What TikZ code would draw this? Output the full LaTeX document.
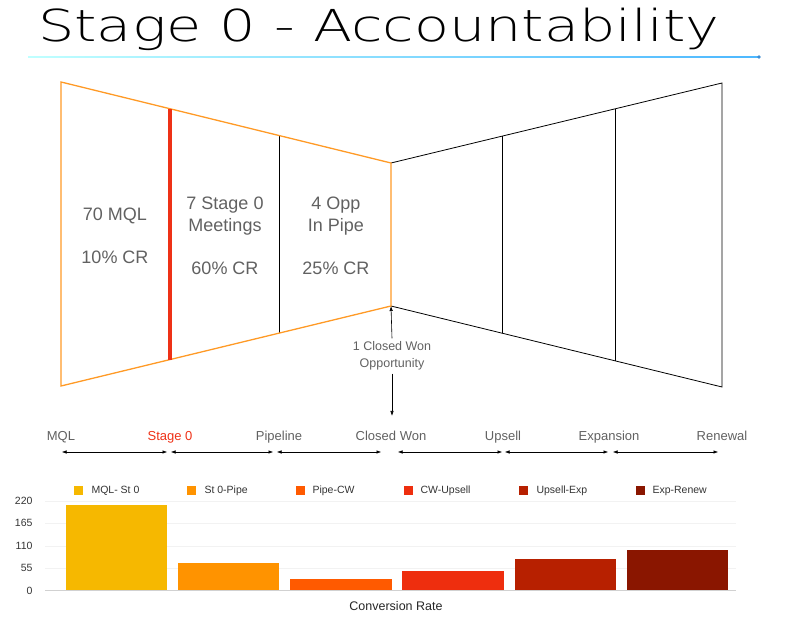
\documentclass[tikz,border=0pt]{standalone}
\usepackage{fontspec}
\setmainfont{Liberation Sans}
\newfontfamily\titlefont{DejaVu Sans ExtraLight}
\usetikzlibrary{calc,arrows.meta}
\definecolor{funnelorange}{HTML}{FF9A26}
\definecolor{stagered}{HTML}{EE3117}
\definecolor{txtgray}{HTML}{616161}
\definecolor{barA}{HTML}{F6B800}
\definecolor{barB}{HTML}{FF9300}
\definecolor{barC}{HTML}{FF5A00}
\definecolor{barD}{HTML}{EE2E0E}
\definecolor{barE}{HTML}{B72000}
\definecolor{barF}{HTML}{8A1600}
\begin{document}
\begin{tikzpicture}[x=1pt,y=-1pt,
  big/.style={text=txtgray,font=\fontsize{18}{22}\selectfont,align=center},
  small/.style={text=txtgray,font=\fontsize{13}{15.5}\selectfont,align=center},
  tick/.style={text=black!80,font=\fontsize{10.5}{12}\selectfont,anchor=east},
  legend/.style={text=black!80,font=\fontsize{10.5}{12}\selectfont,anchor=west},
  span/.style={{Latex[length=4.5pt,width=3.5pt]}-{Latex[length=4.5pt,width=3.5pt]},line width=0.5pt},
  pointer/.style={-{Latex[length=5pt,width=3.5pt]},line width=0.6pt}]

\useasboundingbox (0,0) rectangle (796,617);

\node[anchor=base west,inner sep=0,font=\titlefont\fontsize{44}{48}\selectfont] (title) at (38,42) {\scalebox{1.3}[1]{Stage 0 - Accountability}};
\shade[left color=cyan!25!white,right color=cyan!60!blue!70] (28,56.4) rectangle (759,57.6);
\fill[cyan!60!blue!80] (759,57) circle (1.8);

% funnel
\coordinate (lt) at (61,82);
\coordinate (lb) at (61,386);
\coordinate (mt) at (391,163);
\coordinate (mb) at (391,306);
\coordinate (rt) at (722,83);
\coordinate (rb) at (722,387);
\draw[black,line width=0.8pt] (mt) -- (rt) -- (rb) -- (mb);
\draw[black,line width=0.8pt] ($(mt)!0.338!(rt)$) -- ($(mb)!0.338!(rb)$);
\draw[black,line width=0.8pt] ($(mt)!0.677!(rt)$) -- ($(mb)!0.677!(rb)$);
\draw[black,line width=0.8pt] ($(lt)!0.661!(mt)$) -- ($(lb)!0.661!(mb)$);
\draw[funnelorange,line width=1.3pt,line join=miter] (mt) -- (lt) -- (lb) -- (mb) -- cycle;
\draw[stagered,line width=4pt] ($(lt)!0.33!(mt)$) -- ($(lb)!0.33!(mb)$);

\node[big] (mql) at (115,216) {70 MQL};
\node[big] (mqlcr) at (115,257) {10\% CR};
\node[big] (st0) at (225,216) {7 Stage 0\\Meetings};
\node[big] (st0cr) at (225,268) {60\% CR};
\node[big] (opp) at (336,216) {4 Opp\\In Pipe};
\node[big] (oppcr) at (336,268) {25\% CR};

\node[small,font=\fontsize{12.5}{16.5}\selectfont] (won) at (392,356) {1 Closed Won\\Opportunity};
\coordinate (wonend) at (392,416);
\draw[pointer] (won.north) -- (mb);
\draw[pointer] (won.south) -- (wonend);

% stages
\node[small,anchor=base] (s1) at (61,441) {MQL};
\node[small,anchor=base,text=stagered] (s2) at (170,441) {Stage 0};
\node[small,anchor=base] (s3) at (279,441) {Pipeline};
\node[small,anchor=base] (s4) at (391,441) {Closed Won};
\node[small,anchor=base] (s5) at (503,441) {Upsell};
\node[small,anchor=base] (s6) at (609,441) {Expansion};
\node[small,anchor=base] (s7) at (722,441) {Renewal};

\coordinate (a1) at (62,452);
\coordinate (a2) at (167,452);
\coordinate (a3) at (171,452);
\coordinate (a4) at (273,452);
\coordinate (a5) at (277,452);
\coordinate (a6) at (381,452);
\coordinate (a7) at (398,452);
\coordinate (a8) at (502,452);
\coordinate (a9) at (505,452);
\coordinate (a10) at (608,452);
\coordinate (a11) at (613,452);
\coordinate (a12) at (718,452);
\draw[span] (a1) -- (a2);
\draw[span] (a3) -- (a4);
\draw[span] (a5) -- (a6);
\draw[span] (a7) -- (a8);
\draw[span] (a9) -- (a10);
\draw[span] (a11) -- (a12);

% chart
\draw[black!5,line width=0.7pt] (45,501) -- (736,501);
\draw[black!5,line width=0.7pt] (45,523) -- (736,523);
\draw[black!5,line width=0.7pt] (45,546) -- (736,546);
\draw[black!5,line width=0.7pt] (45,568) -- (736,568);
\node[tick] (t220) at (36,501) {220};
\node[tick] (t165) at (36,523) {165};
\node[tick] (t110) at (36,546) {110};
\node[tick] (t55) at (36,568) {55};
\node[tick] (t0) at (36,591) {0};

\fill[barA] (66,505) rectangle (167,591);
\fill[barB] (178,563) rectangle (279,591);
\fill[barC] (290,579) rectangle (392,591);
\fill[barD] (402,571) rectangle (504,591);
\fill[barE] (515,559) rectangle (616,591);
\fill[barF] (627,550) rectangle (728,591);
\draw[black!18,line width=1pt] (45,591) -- (736,591);

\fill[barA] (74,486) rectangle (83,495);
\node[legend] (l1) at (88,491) {MQL- St 0};
\fill[barB] (187,486) rectangle (196,495);
\node[legend] (l2) at (201,491) {St 0-Pipe};
\fill[barC] (296,486) rectangle (305,495);
\node[legend] (l3) at (309,491) {Pipe-CW};
\fill[barD] (404,486) rectangle (413,495);
\node[legend] (l4) at (417,491) {CW-Upsell};
\fill[barE] (519,486) rectangle (528,495);
\node[legend] (l5) at (533,491) {Upsell-Exp};
\fill[barF] (636,486) rectangle (645,495);
\node[legend] (l6) at (649,491) {Exp-Renew};

\node[text=black!85,font=\fontsize{12.5}{15}\selectfont] (xlabel) at (396,606) {Conversion Rate};

\end{tikzpicture}
\end{document}
